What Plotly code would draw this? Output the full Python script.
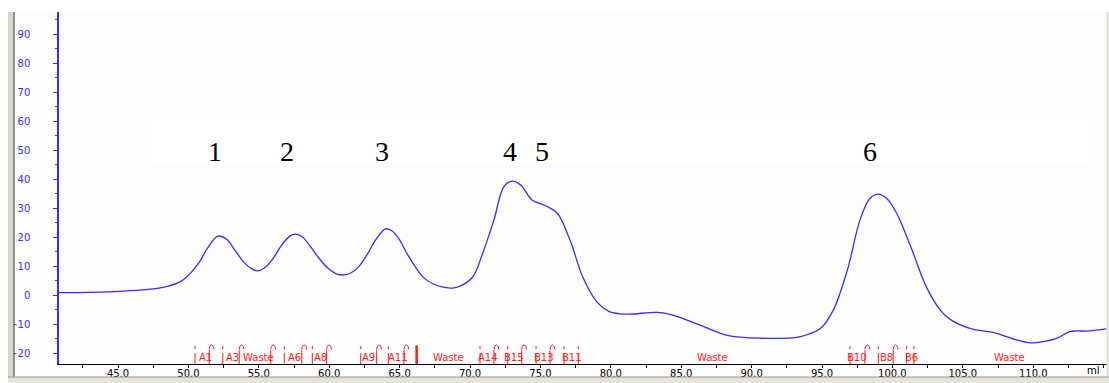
import plotly.graph_objects as go

# ---------------- data ----------------
curve_ml = [40.8, 43.0, 44.8, 46.3, 47.3, 48.5, 49.5, 50.2, 50.8, 51.4, 52.1, 52.7, 53.3,
            53.9, 54.5, 54.9, 55.4, 56.0, 56.6, 57.2, 57.6, 58.1, 58.7, 59.3, 59.9, 60.5,
            61.0, 61.5, 62.1, 62.7, 63.3, 64.0, 64.5, 65.0, 65.5, 66.1, 66.7, 67.4, 68.2,
            68.8, 69.4, 70.2, 70.9, 71.7, 72.4, 73.0, 73.6, 74.4, 75.4, 76.2, 77.1, 78.0,
            79.0, 79.9, 81.1, 83.3, 84.4, 86.3, 88.2, 90.6, 93.4, 94.9, 95.8, 96.8, 97.7,
            98.4, 99.0, 99.6, 100.3, 101.3, 102.4, 103.4, 104.1, 105.5, 107.4, 108.8,
            109.8, 110.7, 111.7, 112.6, 113.1, 114.0, 115.2]
curve_mau = [0.8, 0.9, 1.2, 1.6, 2.0, 3.0, 4.8, 7.8, 11.5, 16.5, 20.3, 19.3, 15.5,
             11.5, 9.0, 8.3, 9.3, 12.5, 17.0, 20.3, 21.0, 20.0, 16.5, 12.5, 9.3, 7.3,
             6.9, 7.5, 9.8, 14.0, 19.0, 22.8, 22.0, 19.0, 14.5, 9.8, 6.0, 3.8, 2.6,
             2.4, 3.3, 6.3, 14.4, 25.9, 37.3, 39.3, 37.9, 32.8, 30.7, 28.2, 19.0, 6.3,
             -2.3, -5.7, -6.6, -6.0, -6.9, -10.3, -13.8, -14.9, -14.4, -11.5, -5.2, 8.6, 25.9,
             33.3, 34.8, 33.3, 28.2, 16.7, 2.9, -5.2, -8.4, -11.5, -13.2, -15.5,
             -16.5, -16.1, -14.9, -12.6, -12.4, -12.4, -11.7]

# fraction marks: "i" = tick mark, "arc" = arc mark
mark_tick_ml = [50.47, 52.44, 56.81, 58.80, 62.24, 64.20, 70.71, 72.68, 74.69, 76.68, 77.69,
                96.99, 99.00, 101.01, 101.53]
mark_arc_ml = [51.48, 53.61, 55.85, 58.05, 59.82, 63.37, 65.31, 71.70, 73.67, 75.68,
               98.05, 100.06]
mark_bold_ml = [66.21]

frac_labels = ["A1", "A3", "Waste", "A6", "A8", "A9", "A11", "Waste", "A14", "B15", "B13",
               "B11", "Waste", "B10", "B8", "B6", "Waste"]
frac_label_ml = [50.6, 52.5, 53.7, 56.9, 58.8, 62.2, 64.0, 67.2, 70.4, 72.3, 74.4,
                 76.4, 86.0, 96.6, 99.0, 100.75, 107.1]

peak_labels = ["1", "2", "3", "4", "5", "6"]
peak_label_ml = [51.9, 57.0, 63.75, 72.85, 75.1, 98.4]

x_tick_vals = [45, 50, 55, 60, 65, 70, 75, 80, 85, 90, 95, 100, 105, 110]
x_tick_text = ["45.0", "50.0", "55.0", "60.0", "65.0", "70.0", "75.0", "80.0", "85.0",
               "90.0", "95.0", "100.0", "105.0", "110.0"]
y_tick_vals = [-20, -10, 0, 10, 20, 30, 40, 50, 60, 70, 80, 90]

# ---------------- styling ----------------
BLUE = "#3030ff"
RED = "#ff1a1a"
X_RANGE = [40.81, 115.24]
Y_RANGE = [-23.79, 97.59]

# plot area pixel geometry: x 59..1107, y 12..364
PL, PR, PT, PB = 59, 1107, 12, 364
def px(x):
    return (x - PL) / (PR - PL)
def py(y):
    return (PB - y) / (PB - PT)

fig = go.Figure()

fig.add_trace(go.Scatter(x=curve_ml, y=curve_mau, mode="lines",
                         line=dict(color=BLUE, width=1.3, shape="spline", smoothing=1.0),
                         hoverinfo="skip", showlegend=False))

# tick-type marks
tx, ty = [], []
for m in mark_tick_ml:
    tx += [m, m, None, m, m, None]
    ty += [-17.6, -18.7, None, -20.0, -23.8, None]
fig.add_trace(go.Scatter(x=tx, y=ty, mode="lines", line=dict(color=RED, width=1),
                         hoverinfo="skip", showlegend=False))

# arc-type marks
ax, ay = [], []
for m in mark_arc_ml:
    ax += [m, m, None, m, m + 0.04, m + 0.17, m + 0.30, m + 0.34, None]
    ay += [-19.0, -23.8, None, -18.8, -17.7, -17.2, -17.7, -18.8, None]
fig.add_trace(go.Scatter(x=ax, y=ay, mode="lines", line=dict(color=RED, width=1),
                         hoverinfo="skip", showlegend=False))

bx, by = [], []
for m in mark_bold_ml:
    bx += [m, m, None]
    by += [-17.4, -23.8, None]
fig.add_trace(go.Scatter(x=bx, y=by, mode="lines", line=dict(color=RED, width=2.5),
                         hoverinfo="skip", showlegend=False))

annotations = []
for t, m in zip(frac_labels, frac_label_ml):
    annotations.append(dict(x=m, y=-21.4, xref="x", yref="y", text=t, showarrow=False,
                            xanchor="left", yanchor="middle",
                            font=dict(family="DejaVu Sans", size=10, color=RED)))
for t, m in zip(peak_labels, peak_label_ml):
    annotations.append(dict(x=m, y=49.6, xref="x", yref="y", text=t, showarrow=False,
                            xanchor="center", yanchor="middle",
                            font=dict(family="Liberation Serif", size=28, color="black")))
annotations.append(dict(x=px(1093), y=py(371), xref="paper", yref="paper", text="ml",
                        showarrow=False, xanchor="center", yanchor="middle",
                        font=dict(family="DejaVu Sans", size=10, color="black")))

shapes = [
    # window background
    dict(type="rect", xref="paper", yref="paper", x0=px(15), x1=px(1107), y0=py(375), y1=py(12),
         fillcolor="#fdfdfd", line=dict(width=0), layer="below"),
    # white box behind peak numbers
    dict(type="rect", xref="paper", yref="paper", x0=px(150), x1=px(1090), y0=py(165), y1=py(120),
         fillcolor="#ffffff", line=dict(width=0), layer="below"),
    # left grey frame
    dict(type="rect", xref="paper", yref="paper", x0=px(8), x1=px(13), y0=py(377), y1=py(12),
         fillcolor="#d8d5cc", line=dict(width=0)),
    dict(type="line", xref="paper", yref="paper", x0=px(14), x1=px(14), y0=py(377), y1=py(12),
         line=dict(color="#707070", width=1.5)),
    # right grey frame
    dict(type="line", xref="paper", yref="paper", x0=px(1107.5), x1=px(1107.5), y0=py(377), y1=py(12),
         line=dict(color="#dcdcd6", width=2)),
    # bottom grey bar
    dict(type="rect", xref="paper", yref="paper", x0=px(8), x1=px(1109), y0=py(383), y1=py(377),
         fillcolor="#e6e3da", line=dict(width=0)),
    dict(type="line", xref="paper", yref="paper", x0=px(8), x1=px(1109), y0=py(377), y1=py(377),
         line=dict(color="#9a9890", width=1.2)),
]

fig.update_layout(
    width=1109, height=383,
    margin=dict(l=PL, r=1109 - PR, t=PT, b=383 - PB),
    paper_bgcolor="white", plot_bgcolor="rgba(0,0,0,0)",
    showlegend=False,
    annotations=annotations, shapes=shapes,
    xaxis=dict(range=X_RANGE, showgrid=False, zeroline=False, showline=True,
               linecolor="black", linewidth=1, ticks="",
               tickvals=x_tick_vals, ticktext=x_tick_text,
               tickfont=dict(family="DejaVu Sans", size=10, color="black"),
               minor=dict(dtick=2.5, tick0=0, ticks="outside", ticklen=3, tickcolor="black")),
    yaxis=dict(range=Y_RANGE, showgrid=False, zeroline=False, showline=True,
               linecolor=BLUE, linewidth=1.5, ticks="outside", ticklen=4, tickcolor=BLUE,
               tickvals=y_tick_vals, ticklabelstandoff=21,
               tickfont=dict(family="DejaVu Sans", size=10, color=BLUE),
               minor=dict(dtick=5, tick0=-25, ticks="outside", ticklen=2, tickcolor=BLUE)),
)

fig.write_html("out.html")
